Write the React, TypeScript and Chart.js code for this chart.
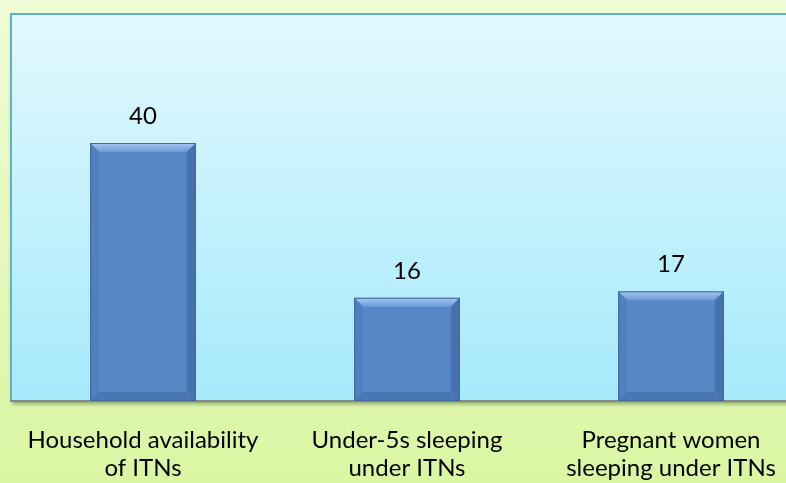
import React, { useEffect, useRef } from "react";
import { Chart, registerables } from "chart.js";

Chart.register(...registerables);

const categories: string[][] = [
  ["Household availability", "of ITNs"],
  ["Under-5s sleeping", "under ITNs"],
  ["Pregnant women", "sleeping under ITNs"],
];
const values: number[] = [40, 16, 17];
const yMax = 60;

const backgroundPlugin = {
  id: "bgPlugin",
  beforeDraw(chart: any) {
    const { ctx, width, chartArea } = chart;
    const height = 483;
    ctx.save();
    const g = ctx.createLinearGradient(0, 0, 0, height);
    g.addColorStop(0, "#effcd7");
    g.addColorStop(1, "#daf6a2");
    ctx.fillStyle = g;
    ctx.fillRect(0, 0, width, chart.height);
    const { left, top, right, bottom } = chartArea;
    ctx.shadowColor = "rgba(0,0,0,0.35)";
    ctx.shadowBlur = 4;
    ctx.shadowOffsetX = 1;
    ctx.shadowOffsetY = 3;
    const pg = ctx.createLinearGradient(0, top, 0, bottom);
    pg.addColorStop(0, "#e2f8fe");
    pg.addColorStop(1, "#a6eafc");
    ctx.fillStyle = pg;
    ctx.fillRect(left, top, right - left, bottom - top);
    ctx.restore();
    ctx.save();
    ctx.strokeStyle = "#5eb3c8";
    ctx.lineWidth = 2;
    ctx.beginPath();
    ctx.moveTo(left, bottom);
    ctx.lineTo(left, top);
    ctx.lineTo(right, top);
    ctx.lineTo(right, bottom);
    ctx.stroke();
    ctx.strokeStyle = "#7f8a8c";
    ctx.lineWidth = 2;
    ctx.beginPath();
    ctx.moveTo(left - 1, bottom);
    ctx.lineTo(right, bottom);
    ctx.stroke();
    ctx.restore();
  },
  afterDatasetsDraw(chart: any) {
    const { ctx } = chart;
    const meta = chart.getDatasetMeta(0);
    ctx.save();
    meta.data.forEach((bar: any, i: number) => {
      const { x, y, base, width } = bar;
      const l = x - width / 2;
      const r = x + width / 2;
      const t = y;
      const b = base;
      const e = 9;
      const tg = ctx.createLinearGradient(0, t, 0, t + e);
      tg.addColorStop(0, "#a4c8f0");
      tg.addColorStop(1, "#6c9ad6");
      ctx.fillStyle = tg;
      ctx.beginPath();
      ctx.moveTo(l, t);
      ctx.lineTo(r, t);
      ctx.lineTo(r - e, t + e);
      ctx.lineTo(l + e, t + e);
      ctx.closePath();
      ctx.fill();
      ctx.fillStyle = "#5080bf";
      ctx.beginPath();
      ctx.moveTo(l, t);
      ctx.lineTo(l + e, t + e);
      ctx.lineTo(l + e, b - e);
      ctx.lineTo(l, b);
      ctx.closePath();
      ctx.fill();
      ctx.fillStyle = "#4671aa";
      ctx.beginPath();
      ctx.moveTo(r, t);
      ctx.lineTo(r - e, t + e);
      ctx.lineTo(r - e, b - e);
      ctx.lineTo(r, b);
      ctx.closePath();
      ctx.fill();
      ctx.fillStyle = "#4977b3";
      ctx.beginPath();
      ctx.moveTo(l, b);
      ctx.lineTo(l + e, b - e);
      ctx.lineTo(r - e, b - e);
      ctx.lineTo(r, b);
      ctx.closePath();
      ctx.fill();
      ctx.strokeStyle = "#3f689c";
      ctx.lineWidth = 1;
      ctx.strokeRect(l + 0.5, t + 0.5, width - 1, b - t - 1);
      ctx.fillStyle = "#000000";
      ctx.font = "24px Lato";
      ctx.textAlign = "center";
      ctx.textBaseline = "middle";
      ctx.fillText(String(values[i]), x, t - 27);
    });
    ctx.restore();
  },
};

export default function App() {
  const ref = useRef<HTMLCanvasElement>(null);
  useEffect(() => {
    if (!ref.current) return;
    const chart = new Chart(ref.current, {
      type: "bar",
      data: {
        labels: categories,
        datasets: [
          {
            data: values,
            backgroundColor: "#5887c8",
            borderWidth: 0,
            barPercentage: 0.4,
            categoryPercentage: 1,
          },
        ],
      },
      options: {
        animation: false,
        responsive: false,
        maintainAspectRatio: false,
        layout: { padding: { left: 11, top: 14, right: 7, bottom: 0 } },
        plugins: { legend: { display: false }, tooltip: { enabled: false } },
        scales: {
          y: { display: false, min: 0, max: yMax, grid: { display: false } },
          x: {
            grid: { display: false, drawTicks: false },
            border: { display: false },
            ticks: {
              color: "#000000",
              padding: 25,
              maxRotation: 0,
              autoSkip: false,
              font: { family: "Lato", size: 24, lineHeight: "28px" },
            },
          },
        },
      },
      plugins: [backgroundPlugin],
    });
    return () => chart.destroy();
  }, []);
  return (
    <div style={{ position: "fixed", left: 0, top: 0, width: 786, height: 483, overflow: "hidden" }}>
      <canvas ref={ref} width={810} height={507} style={{ display: "block" }} />
    </div>
  );
}
